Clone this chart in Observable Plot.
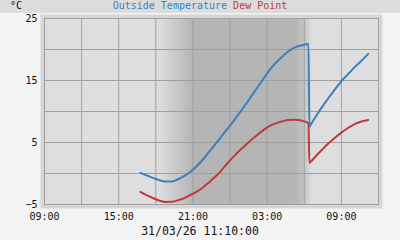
<!DOCTYPE html>
<html><head><meta charset="utf-8">
<script src="https://cdn.jsdelivr.net/npm/d3@7"></script>
<script src="https://cdn.jsdelivr.net/npm/@observablehq/plot@0.6"></script>
<style>
html,body{margin:0;padding:0;background:#f4f4f4;width:400px;height:240px;overflow:hidden;font-family:"DejaVu Sans Mono",monospace;}
#head{position:relative;height:13px;background:#dcdcdc;font-size:10px;line-height:11px;}
#unit{position:absolute;left:10px;top:0;color:#111;}
#title{text-align:center;}
#cap{height:17px;line-height:16px;text-align:center;font-size:11.5px;color:#111;}
svg{display:block;}
</style></head><body>
<div id="head"><span id="unit">°C</span><div id="title"><span style="color:#3a7fc0">Outside Temperature</span> <span style="color:#bf3a3c">Dew Point</span></div></div>
<div id="chart"></div>
<div id="cap">31/03/26 11:10:00</div>
<script>
const times = [
  "2026-03-30T16:45","2026-03-30T17:15","2026-03-30T17:45","2026-03-30T18:15","2026-03-30T18:45",
  "2026-03-30T19:15","2026-03-30T19:45","2026-03-30T20:15","2026-03-30T20:45","2026-03-30T21:15",
  "2026-03-30T21:45","2026-03-30T22:15","2026-03-30T22:45","2026-03-30T23:15","2026-03-30T23:45",
  "2026-03-31T00:15","2026-03-31T00:45","2026-03-31T01:15","2026-03-31T01:45","2026-03-31T02:15",
  "2026-03-31T02:45","2026-03-31T03:15","2026-03-31T03:45","2026-03-31T04:15","2026-03-31T04:45",
  "2026-03-31T05:15","2026-03-31T05:45","2026-03-31T06:15","2026-03-31T06:20","2026-03-31T06:25",
  "2026-03-31T06:30","2026-03-31T07:00","2026-03-31T07:30","2026-03-31T08:00","2026-03-31T08:30",
  "2026-03-31T09:00","2026-03-31T09:30","2026-03-31T10:00","2026-03-31T10:30","2026-03-31T11:10"
];
const outsideTemp = [
  0.1, -0.3, -0.7, -1.05, -1.3, -1.3, -0.97, -0.46, 0.2, 1.08, 2.14, 3.35, 4.58, 5.84, 7.1,
  8.38, 9.74, 11.1, 12.55, 14.0, 15.43, 16.84, 17.95, 18.93, 19.75, 20.33, 20.65,
  20.9, 20.95, 7.5, 7.8,
  9.4, 10.9, 12.3, 13.6, 14.9, 15.95, 17.0, 17.95,
  19.3
];
const dewPoint = [
  -2.97, -3.5, -3.95, -4.35, -4.58, -4.57, -4.34, -4.02, -3.51, -3.0, -2.33, -1.5, -0.62, 0.39, 1.57,
  2.65, 3.67, 4.57, 5.47, 6.3, 7.08, 7.73, 8.13, 8.44, 8.63, 8.66, 8.55,
  8.2, 8.05, 1.7, 1.85,
  2.95, 3.97, 4.95, 5.8, 6.6, 7.3, 7.9, 8.3,
  8.62
];
const xDomain = ["2026-03-30T09:00", "2026-03-31T12:00"];
const xGrid = ["2026-03-30T09:00","2026-03-30T12:00","2026-03-30T15:00","2026-03-30T18:00","2026-03-30T21:00",
  "2026-03-31T00:00","2026-03-31T03:00","2026-03-31T06:00","2026-03-31T09:00","2026-03-31T12:00"];
const xLabels = ["2026-03-30T09:00","2026-03-30T15:00","2026-03-30T21:00","2026-03-31T03:00","2026-03-31T09:00"];
const yGrid = [-5, 0, 5, 10, 15, 20, 25];
const yLabels = [25, 15, 5, -5];
const night = [{start: "2026-03-30T18:13", end: "2026-03-31T06:40"}];

const d = s => new Date(s + ":00Z");
const rows = times.map((t, i) => ({time: d(t), temp: outsideTemp[i], dew: dewPoint[i]}));
const nightRows = night.map(n => ({start: d(n.start), end: d(n.end)}));

const svg = Plot.plot({
  width: 400, height: 210,
  marginTop: 5, marginBottom: 19, marginLeft: 44, marginRight: 22,
  style: {fontFamily: "DejaVu Sans Mono", fontSize: "10px", background: "transparent", color: "#111"},
  x: {type: "utc", domain: xDomain.map(d)},
  y: {domain: [-5, 25]},
  marks: [
    Plot.frame({fill: "#d6d6d6", inset: -4}),
    Plot.frame({fill: "#dedede"}),
    Plot.rect(nightRows, {x1: "start", x2: "end", fill: "url(#night)"}),
    Plot.ruleX(xGrid.map(d), {stroke: "#a0a0a0", strokeWidth: 1}),
    Plot.ruleY(yGrid, {stroke: "#a0a0a0", strokeWidth: 1}),
    Plot.line(rows, {x: "time", y: "dew", stroke: "#bf3a3c", strokeWidth: 2, curve: "monotone-x"}),
    Plot.line(rows, {x: "time", y: "temp", stroke: "#3a7fc0", strokeWidth: 2, curve: "monotone-x"}),
    Plot.frame({stroke: "#a0a0a0", strokeWidth: 1}),
    Plot.axisX(xLabels.map(d), {tickSize: 0, tickPadding: 8, tickFormat: d3.utcFormat("%H:%M"), label: null, fill: "#111"}),
    Plot.axisY(yLabels, {tickSize: 0, tickPadding: 7, label: null, fill: "#111"})
  ]
});
const ns = "http://www.w3.org/2000/svg";
const defs = document.createElementNS(ns, "defs");
defs.innerHTML = '<linearGradient id="night" x1="0" x2="1" y1="0" y2="0">' +
  '<stop offset="0" stop-color="#dedede"/>' +
  '<stop offset="0.227" stop-color="#b5b5b5"/>' +
  '<stop offset="0.89" stop-color="#b5b5b5"/>' +
  '<stop offset="0.95" stop-color="#c4c4c4"/>' +
  '<stop offset="1" stop-color="#dedede"/></linearGradient>';
svg.insertBefore(defs, svg.firstChild);
document.getElementById("chart").appendChild(svg);
</script>
</body></html>
